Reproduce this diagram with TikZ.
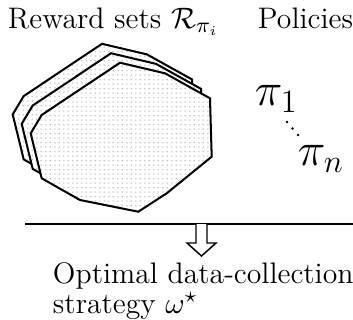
\documentclass[tikz,border=0pt]{standalone}
\usepackage{amsmath,amssymb}
\usetikzlibrary{patterns.meta}
\tikzdeclarepattern{name=finedots, type=uncolored,
  bounding box={(0,0) and (3.4pt,3.4pt)}, tile size={(3.4pt,3.4pt)},
  code={\fill (0.4pt,0.4pt) circle (0.2pt); \fill (2.1pt,2.1pt) circle (0.2pt);
        \fill (2.1pt,0.4pt) circle (0.2pt); \fill (0.4pt,2.1pt) circle (0.2pt);}}
\begin{document}
\begin{tikzpicture}[x=0.3704pt,y=-0.3704pt,
  rset/.style={draw=black, line width=0.75pt, line join=miter, fill=white},
  rdots/.style={pattern={finedots}, pattern color=black!70},
  lbl/.style={anchor=base west, inner sep=0pt, outer sep=0pt, font=\fontsize{11pt}{13pt}\selectfont},
  plbl/.style={anchor=base west, inner sep=0pt, outer sep=0pt},
  hollow/.style={draw=black, line width=0.55pt, fill=white, line join=miter}]
\useasboundingbox (0,0) rectangle (353,320);
\foreach \s/\n in {18/back, 9/mid, 0/front}{
  \begin{scope}[shift={(-\s,-\s*1.05)}]
    \path[rset] (120,62.7) -- (165,73.3) -- (210,98.3) -- (211.7,156.7) -- (166.7,193.3) -- (138.3,211.7) -- (80,200) -- (41.7,178.3) -- (30.7,133.3) -- (41.7,115) -- cycle;
    \path[rdots] (120,62.7) -- (165,73.3) -- (210,98.3) -- (211.7,156.7) -- (166.7,193.3) -- (138.3,211.7) -- (80,200) -- (41.7,178.3) -- (30.7,133.3) -- (41.7,115) -- cycle;
  \end{scope}
}
\node[lbl] (rew) at (8,28) {Reward sets $\mathcal{R}_{\pi_i}$};
\node[lbl] (pol) at (258,28) {Policies};
\node[plbl] (p1) at (255,105) {\LARGE$\pi_1$};
\node[plbl] (pn) at (298,165) {\LARGE$\pi_n$};
\fill (287,122) circle (1.4) (292.5,128.5) circle (1.4) (298,135) circle (1.4);
\coordinate (la) at (25,224);
\coordinate (lb) at (353,224);
\draw[line width=0.75pt] (la) -- (lb);
\path[hollow] (196,224) -- (196,243) -- (187,243) -- (201.5,256) -- (216,243) -- (207,243) -- (207,224);
\node[lbl] (opt) at (53,283) {Optimal data-collection};
\node[lbl] (str) at (53,313) {strategy $\omega^{\star}$};
\end{tikzpicture}
\end{document}
